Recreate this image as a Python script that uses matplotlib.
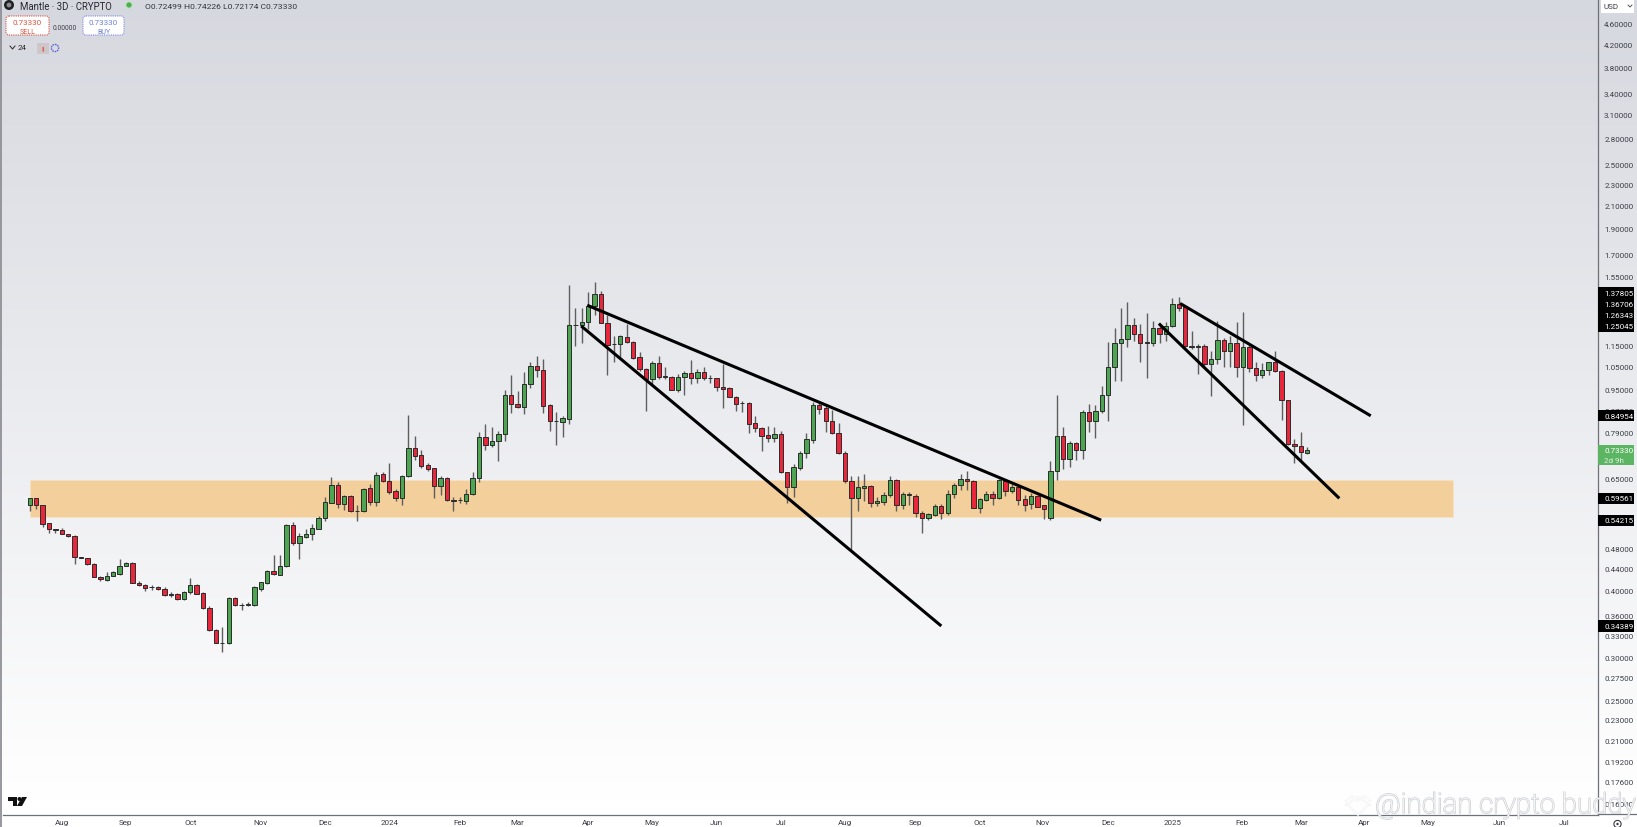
import numpy as np
import matplotlib
matplotlib.use('Agg')
import matplotlib.pyplot as plt
import matplotlib.patheffects as pe
from matplotlib.patches import Rectangle, FancyBboxPatch, Circle, Polygon

plt.rcParams['font.family'] = ['Roboto', 'DejaVu Sans']

# --- candle data (3D candles) ---
opens = [
    .580, .597, .580, .535, .521, .520, .511, .506, .462, .460,
    .449, .425, .419, .426, .431, .446, .451, .414, .411, .407,
    .406, .404, .394, .395, .386, .398, .411, .396, .372, .338,
    .320, .319, .388, .377, .377, .377, .404, .414, .436, .429,
    .445, .532, .491, .505, .510, .523, .548, .585, .632, .581,
    .601, .565, .563, .622, .587, .660, .642, .614, .597, .656,
    .739, .717, .686, .678, .628, .650, .592, .591, .590, .607,
    .650, .774, .749, .762, .785, .928, .895, .884, .975, 1.051,
    1.036, .890, .832, .828, .838, 1.256, 1.253, 1.27, 1.361, 1.435,
    1.268, 1.157, 1.157, 1.194, 1.167, 1.092, 1.04, .995, 1.065, 1.006,
    1.006, .95, 1.004, 1.02, 1.0, 1.024, .999, .998, .96, .959,
    .921, .896, .899, .822, .805, .781, .773, .785, .667, .625,
    .68, .723, .767, .89, .877, .83, .789, .723, .642, .597,
    .624, .628, .583, .587, .603, .645, .578, .604, .602, .559,
    .547, .555, .577, .558, .606, .63, .647, .642, .571, .592,
    .606, .596, .642, .615, .626, .593, .581, .601, .578, .547,
    .67, .78, .705, .755, .732, .865, .83, .868, .928, 1.048,
    1.16, 1.18, 1.258, 1.208, 1.163, 1.163, 1.24, 1.208, 1.248, 1.376,
    1.355, 1.143, 1.143, 1.146, 1.06, 1.085, 1.178, 1.122, 1.163, 1.05,
    1.14, 1.045, 1.012, 1.035, 1.07, 1.03, .908, .752, .745, .72499,
]
closes = [
    .597, .580, .533, .521, .520, .511, .506, .462, .461, .449,
    .425, .421, .427, .433, .446, .451, .414, .410, .405, .406,
    .404, .393, .393, .386, .398, .411, .395, .371, .338, .320,
    .319, .388, .377, .376, .378, .406, .415, .436, .430, .446,
    .532, .491, .507, .511, .525, .548, .586, .632, .581, .601,
    .563, .564, .621, .587, .659, .642, .612, .597, .656, .739,
    .715, .684, .676, .628, .650, .591, .588, .592, .607, .650,
    .774, .749, .762, .785, .928, .893, .884, .975, 1.051, 1.036,
    .888, .830, .831, .840, 1.255, 1.258, 1.272, 1.364, 1.435, 1.268,
    1.154, 1.158, 1.196, 1.165, 1.09, 1.039, .995, 1.065, 1.005, 1.008,
    .95, 1.004, 1.02, 1.0, 1.024, .998, 1.001, .96, .955, .921,
    .893, .897, .82, .807, .779, .773, .785, .667, .625, .682,
    .724, .77, .89, .876, .83, .789, .723, .642, .597, .625,
    .628, .584, .59, .604, .645, .58, .606, .606, .558, .548,
    .557, .577, .558, .607, .63, .648, .643, .572, .594, .606,
    .596, .644, .615, .626, .592, .58, .602, .575, .568, .67,
    .78, .705, .755, .732, .865, .83, .868, .928, 1.048, 1.16,
    1.18, 1.258, 1.208, 1.16, 1.165, 1.24, 1.208, 1.25, 1.375, 1.35,
    1.145, 1.147, 1.147, 1.06, 1.085, 1.178, 1.122, 1.163, 1.05, 1.14,
    1.045, 1.012, 1.035, 1.07, 1.03, .908, .752, .745, .726, .7333,
]
highs = [
    .597, .597, .580, .535, .522, .524, .511, .508, .463, .461,
    .450, .426, .433, .436, .458, .452, .452, .418, .412, .411,
    .408, .406, .398, .396, .400, .423, .412, .398, .375, .339,
    .342, .389, .390, .380, .381, .408, .416, .438, .466, .466,
    .533, .537, .514, .522, .534, .552, .600, .654, .640, .604,
    .603, .578, .623, .633, .666, .667, .692, .620, .658, .854,
    .778, .734, .692, .680, .657, .652, .598, .600, .620, .668,
    .791, .820, .808, .797, .950, 1.012, .945, 1.024, 1.073, 1.097,
    1.085, .893, .865, .848, 1.494, 1.350, 1.352, 1.446, 1.51, 1.455,
    1.31, 1.196, 1.204, 1.26, 1.172, 1.116, 1.045, 1.076, 1.10, 1.05,
    1.008, 1.017, 1.03, 1.082, 1.04, 1.05, 1.012, 1.0, 1.06, .961,
    .925, .906, .90, .848, .81, .814, .811, .795, .668, .69,
    .73, .79, .90, .90, .885, .87, .825, .73, .656, .656,
    .66, .63, .598, .613, .655, .647, .613, .613, .606, .565,
    .56, .581, .581, .617, .636, .66, .671, .644, .596, .614,
    .614, .648, .645, .633, .628, .604, .61, .607, .58, .70,
    .928, .808, .763, .76, .87, .893, .89, .965, 1.168, 1.237,
    1.35, 1.386, 1.295, 1.26, 1.325, 1.28, 1.255, 1.27, 1.41, 1.414,
    1.36, 1.225, 1.158, 1.158, 1.125, 1.275, 1.187, 1.2, 1.27, 1.33,
    1.158, 1.072, 1.065, 1.072, 1.125, 1.035, .91, .77, .793, .74226,
]
lows = [
    .565, .570, .527, .514, .512, .511, .505, .449, .460, .447,
    .424, .418, .417, .426, .429, .445, .413, .409, .400, .402,
    .401, .392, .390, .385, .385, .394, .394, .370, .337, .319,
    .308, .318, .374, .369, .374, .375, .400, .412, .429, .428,
    .443, .487, .458, .502, .497, .522, .541, .583, .571, .567,
    .562, .541, .561, .578, .577, .640, .607, .590, .578, .652,
    .701, .679, .671, .596, .603, .590, .565, .585, .581, .605,
    .640, .734, .744, .700, .763, .860, .878, .855, .957, 1.003,
    .860, .796, .750, .777, .819, 1.147, 1.161, 1.234, 1.31, 1.265,
    1.012, 1.071, 1.093, 1.16, 1.085, 1.03, .867, .975, .995, .997,
    .95, .942, .928, .975, .98, .99, .98, .945, .88, .92,
    .867, .865, .79, .794, .729, .76, .758, .665, .585, .60,
    .673, .708, .757, .856, .794, .785, .72, .637, .477, .565,
    .59, .573, .577, .58, .598, .565, .57, .578, .549, .512,
    .543, .553, .545, .555, .596, .618, .618, .571, .56, .588,
    .578, .594, .602, .61, .578, .565, .568, .573, .545, .543,
    .645, .676, .681, .703, .705, .794, .772, .86, .83, .985,
    .988, 1.14, 1.173, 1.07, 1.0, 1.148, 1.163, 1.173, 1.245, 1.335,
    1.143, 1.132, 1.015, 1.05, .925, 1.06, 1.05, 1.05, 1.005, .818,
    1.025, .988, 1.0, 1.014, 1.025, .835, .75, .692, .703, .72174,
]

# trend lines: candle index and price at each end
line_upper_x = [86.85, 166.9]
line_upper_y = [1.36706, 0.54215]
line_lower_x = [85.9, 142.0]
line_lower_y = [1.25045, 0.34389]
line_upper2_x = [179.2, 208.9]
line_upper2_y = [1.37805, 0.84954]
line_lower2_x = [175.9, 204.0]
line_lower2_y = [1.26343, 0.59561]

# support zone
zone_x = [0.0, 221.7]
zone_y = [0.549, 0.645]

price_ticks = [4.6, 4.2, 3.8, 3.4, 3.1, 2.8, 2.5, 2.3, 2.1, 1.9, 1.7, 1.55, 1.15, 1.05, 0.95,
               0.87, 0.79, 0.65, 0.55, 0.48, 0.44, 0.40, 0.36, 0.33, 0.30, 0.275, 0.25, 0.23,
               0.21, 0.192, 0.176, 0.16]
# values on the black tags, and where the scale stacks them so they do not collide
price_tags = [1.37805, 1.36706, 1.26343, 1.25045, 0.84954, 0.59561, 0.54215, 0.34389]
tag_places = [1.441, 1.374, 1.31, 1.25, 0.84954, 0.59561, 0.54215, 0.34389]

month_pos = [5, 14.9, 25, 35.9, 46, 56, 67, 75.9, 87, 96.9, 107, 117, 127, 137.9, 148, 157.8,
             168, 178, 188.8, 198, 207.8, 217.8, 228.9, 239]
month_labels = ['Aug', 'Sep', 'Oct', 'Nov', 'Dec', '2024', 'Feb', 'Mar', 'Apr', 'May', 'Jun', 'Jul',
                'Aug', 'Sep', 'Oct', 'Nov', 'Dec', '2025', 'Feb', 'Mar', 'Apr', 'May', 'Jun', 'Jul']

W, H = 1637, 828
GREEN = '#4CA651'
RED = '#E8263C'
EDGE = '#2b2b2b'
WICK = '#5e5e5e'
TXT = '#3a3d46'
AXIS = '#6f7178'
FS = 5.8

fig = plt.figure(figsize=(W / 100, H / 100), dpi=100)

# background gradient, grey at the top going to white
bg = fig.add_axes([0, 0, 1, 1], zorder=0)
bg.axis('off')
ramp = np.linspace(0, 1, 256)[:, None, None]
top = np.array([214, 216, 223]) / 255
grad = top + (1 - top) * np.clip(ramp * 1.03, 0, 1)
bg.imshow(grad, aspect='auto', extent=[0, 1, 0, 1], origin='upper')

# price axes, placed to the pixel box of the chart pane
ax = fig.add_axes([3 / W, (H - 815.5) / H, 1595 / W, 815.5 / H], zorder=1)
ax.patch.set_alpha(0)
ax.set_yscale('log')
ax.set_xlim(-4.16, 244.3)
ax.set_ylim(0.1528, 5.106)

xs = np.arange(len(opens))
o = np.array(opens)
c = np.array(closes)
colors = [GREEN if b >= a else RED for a, b in zip(o, c)]

ax.add_patch(Rectangle((zone_x[0], zone_y[0]), zone_x[1] - zone_x[0], zone_y[1] - zone_y[0],
                       facecolor='#F3CF9C', edgecolor='#f6e2c6', lw=0.6, zorder=1))
ax.vlines(xs, lows, highs, color=WICK, lw=1.0, zorder=2)
ax.bar(xs, np.abs(c - o), bottom=np.minimum(o, c), width=0.68, color=colors,
       edgecolor=EDGE, linewidth=0.7, zorder=3)

for lx, ly in [(line_upper_x, line_upper_y), (line_lower_x, line_lower_y),
               (line_upper2_x, line_upper2_y), (line_lower2_x, line_lower2_y)]:
    ax.plot(lx, ly, color='black', lw=2.2, solid_capstyle='butt', zorder=4)

# axis furniture
ax.yaxis.tick_right()
ax.set_yticks(price_ticks)
ax.set_yticklabels([f'{t:.5f}' for t in price_ticks], fontsize=FS, color=TXT)
ax.minorticks_off()
ax.tick_params(axis='y', length=0, pad=4.4)
ax.set_xticks(month_pos)
ax.set_xticklabels(month_labels, fontsize=FS, color=TXT)
ax.tick_params(axis='x', length=0, pad=3.4)
for name in ['top', 'left']:
    ax.spines[name].set_visible(False)
for name in ['right', 'bottom']:
    ax.spines[name].set_color(AXIS)
    ax.spines[name].set_linewidth(0.9)

# black level tags on the price scale
tr = ax.get_yaxis_transform()
px_per_ln = 232.4
tag_w = 36 / 1595
half = np.exp(5.6 / px_per_ln)
for v, place in zip(price_tags, tag_places):
    ax.add_patch(Rectangle((1, place / half), tag_w, place * half - place / half, transform=tr,
                           facecolor='black', edgecolor='none', clip_on=False, zorder=6))
    ax.text(1 + 6 / 1595, place, f'{v:.5f}', transform=tr, color='white', fontsize=FS,
            va='center', ha='left', zorder=7, clip_on=False)

# last price tag
last = closes[-1]
ax.add_patch(Rectangle((1, last * np.exp(-15 / px_per_ln)), tag_w,
                       last * np.exp(5 / px_per_ln) - last * np.exp(-15 / px_per_ln),
                       transform=tr, facecolor='#5CB562', edgecolor='none', clip_on=False, zorder=6))
ax.text(1 + 6 / 1595, last, f'{last:.5f}', transform=tr, color='white', fontsize=FS,
        va='center', ha='left', zorder=7, clip_on=False)
ax.text(1 + 6 / 1595, last * np.exp(-10 / px_per_ln), '2d 9h', transform=tr, color='#dff0df',
        fontsize=FS, va='center', ha='left', zorder=7, clip_on=False)

# overlay in pixel coordinates for the app chrome
ui = fig.add_axes([0, 0, 1, 1], zorder=2)
ui.set_xlim(0, W)
ui.set_ylim(H, 0)
ui.axis('off')
ui.patch.set_alpha(0)

ui.plot([1, 1], [0, H], color='#8e9096', lw=1.3)
ui.plot([1598, W], [815.5, 815.5], color=AXIS, lw=0.9)

ui.add_patch(Rectangle((1601, 0), 33, 14, facecolor='white', edgecolor='none'))
ui.text(1603, 7, 'USD', fontsize=FS, color=TXT, va='center')
ui.plot([1628, 1630, 1632], [6, 8, 6], color=TXT, lw=0.6)

# legend at top left
ui.add_patch(Circle((9, 6), 5, facecolor='#1f2124', edgecolor='none'))
ui.add_patch(Circle((9, 6), 2.4, facecolor='#8b8d90', edgecolor='none'))
ui.text(20, 6.5, 'Mantle · 3D · CRYPTO', fontsize=6.9, color='#26282e', va='center')
ui.add_patch(Circle((129, 6), 3.2, facecolor='#4CAF50', edgecolor='#bfe3c0', lw=0.8))
ui.text(145, 7, 'O0.72499 H0.74226 L0.72174 C0.73330', fontsize=6.1, color='#33363e', va='center')

ui.add_patch(FancyBboxPatch((6, 17), 43, 19, boxstyle='round,pad=0,rounding_size=3',
                            facecolor='white', edgecolor='#e0503f', lw=0.8, ls=(0, (1, 1))))
ui.text(27.5, 23, '0.73330', fontsize=FS, color='#d9543f', ha='center', va='center')
ui.text(27.5, 32, 'SELL', fontsize=5.1, color='#d9543f', ha='center', va='center')
ui.text(65, 28, '0.00000', fontsize=4.8, color=TXT, ha='center', va='center')
ui.add_patch(FancyBboxPatch((83, 17), 41, 19, boxstyle='round,pad=0,rounding_size=3',
                            facecolor='white', edgecolor='#7d88e8', lw=0.8, ls=(0, (1, 1))))
ui.text(103.5, 23, '0.73330', fontsize=FS, color='#6f7fd8', ha='center', va='center')
ui.text(103.5, 32, 'BUY', fontsize=5.1, color='#6f7fd8', ha='center', va='center')

ui.plot([10, 12.5, 15], [47, 50, 47], color='#26282e', lw=0.7)
ui.text(18, 48.5, '24', fontsize=FS, color='#26282e', va='center')
ui.add_patch(Rectangle((37, 44), 12, 11, facecolor='#cfc6c9', edgecolor='none'))
ui.text(43, 49.5, '!', fontsize=6, color='#e0453a', ha='center', va='center', fontweight='bold')
ui.add_patch(Circle((55, 49), 3.6, facecolor='none', edgecolor='#6068d8', lw=1.0, ls=(0, (1.2, 0.6))))

# tradingview logo
ui.add_patch(Polygon([(8, 798), (17, 798), (17, 807), (13, 807), (13, 802), (8, 802)], facecolor='#111'))
ui.add_patch(Circle((19.5, 800), 2, facecolor='#111', edgecolor='none'))
ui.add_patch(Polygon([(22, 798), (27, 798), (22, 807), (17, 807)], facecolor='#111'))

# watermark, runs off the right edge
halo = [pe.withStroke(linewidth=1.1, foreground='#cfd1d5')]
ui.text(1375, 806.5, '@indian crypto buddy', fontsize=20, color='white', va='center', ha='left',
        fontweight='light', clip_on=True, path_effects=halo)
ui.plot([1346, 1352, 1358, 1364, 1370], [802, 797, 802, 797, 802], color='white', lw=1.1, path_effects=halo)
ui.plot([1346, 1358, 1370], [806, 798, 806], color='white', lw=1.1, path_effects=halo)
ui.plot([1348, 1358, 1368], [806, 816, 806], color='white', lw=1.1, path_effects=halo)

# settings wheel
ui.add_patch(Circle((1617.5, 825), 3.6, facecolor='none', edgecolor='#3a3d46', lw=0.8))
ui.add_patch(Circle((1617.5, 825), 1.2, facecolor='#3a3d46', edgecolor='none'))

fig.savefig('out.png', dpi=100)
